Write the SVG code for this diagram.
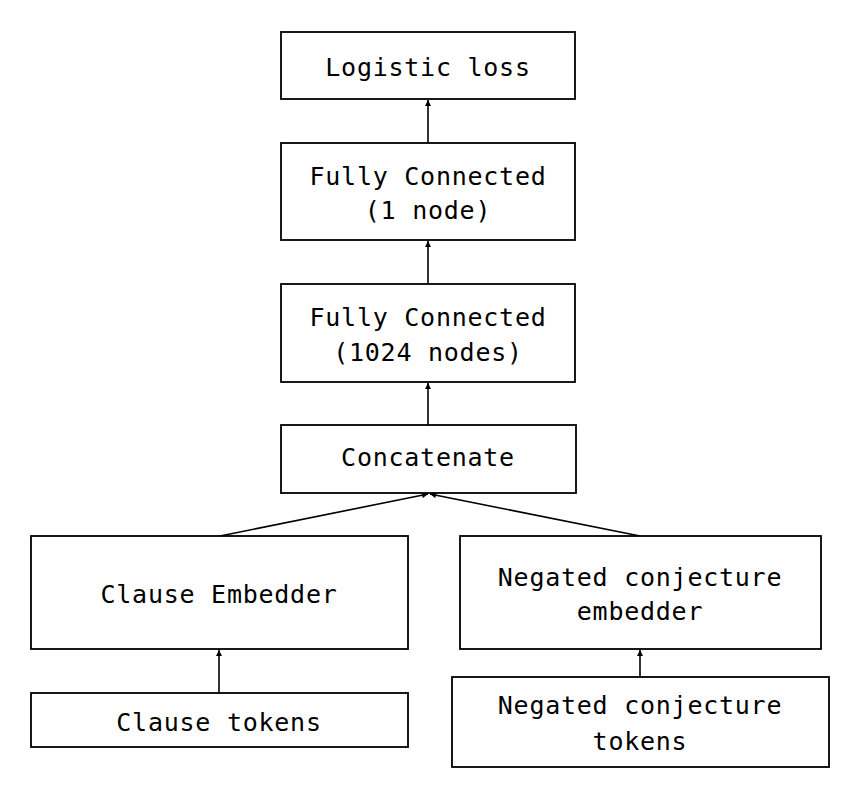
<svg xmlns="http://www.w3.org/2000/svg" width="855" height="794" viewBox="0 0 855 794">
<defs>
<marker id="ah" viewBox="0 0 10 10" refX="10" refY="5" markerWidth="10" markerHeight="6" markerUnits="userSpaceOnUse" orient="auto">
<path d="M0,0 L10,5 L0,10 z" fill="#000"/>
</marker>
<style>
.box{fill:#fff;stroke:#000;stroke-width:1.8}
.t{font-family:"DejaVu Sans Mono","Liberation Mono",monospace;font-size:25px;letter-spacing:0.75px;text-anchor:middle;fill:#000}
.c{stroke:#000;stroke-width:1.6;fill:none;marker-end:url(#ah)}
</style>
</defs>
<rect width="855" height="794" fill="#fff"/>
<g id="connectors">
<line class="c" x1="428" y1="143" x2="428" y2="100"/>
<line class="c" x1="428" y1="284" x2="428" y2="241"/>
<line class="c" x1="428" y1="425" x2="428" y2="383"/>
<line class="c" x1="220" y1="536" x2="428" y2="494"/>
<line class="c" x1="640" y1="536" x2="430" y2="494"/>
<line class="c" x1="219" y1="693" x2="219" y2="650"/>
<line class="c" x1="640" y1="677" x2="640" y2="650"/>
</g>
<g id="logistic-loss">
<rect class="box" x="281" y="32" width="294" height="67"/>
<text class="t" x="428" y="76">Logistic loss</text>
</g>
<g id="fc-1">
<rect class="box" x="281" y="143" width="294" height="97"/>
<text class="t" x="428" y="185">Fully Connected</text>
<text class="t" x="428" y="219">(1 node)</text>
</g>
<g id="fc-1024">
<rect class="box" x="281" y="284" width="294" height="98"/>
<text class="t" x="428" y="326">Fully Connected</text>
<text class="t" x="428" y="361">(1024 nodes)</text>
</g>
<g id="concatenate">
<rect class="box" x="281" y="425" width="295" height="68"/>
<text class="t" x="428" y="466">Concatenate</text>
</g>
<g id="clause-embedder">
<rect class="box" x="31" y="536" width="377" height="113"/>
<text class="t" x="219" y="603">Clause Embedder</text>
</g>
<g id="clause-tokens">
<rect class="box" x="31" y="693" width="377" height="54"/>
<text class="t" x="219" y="731">Clause tokens</text>
</g>
<g id="negated-embedder">
<rect class="box" x="460" y="536" width="361" height="113"/>
<text class="t" x="640" y="586">Negated conjecture</text>
<text class="t" x="640" y="620">embedder</text>
</g>
<g id="negated-tokens">
<rect class="box" x="452" y="677" width="377" height="90"/>
<text class="t" x="640" y="714">Negated conjecture</text>
<text class="t" x="640" y="750">tokens</text>
</g>
</svg>
